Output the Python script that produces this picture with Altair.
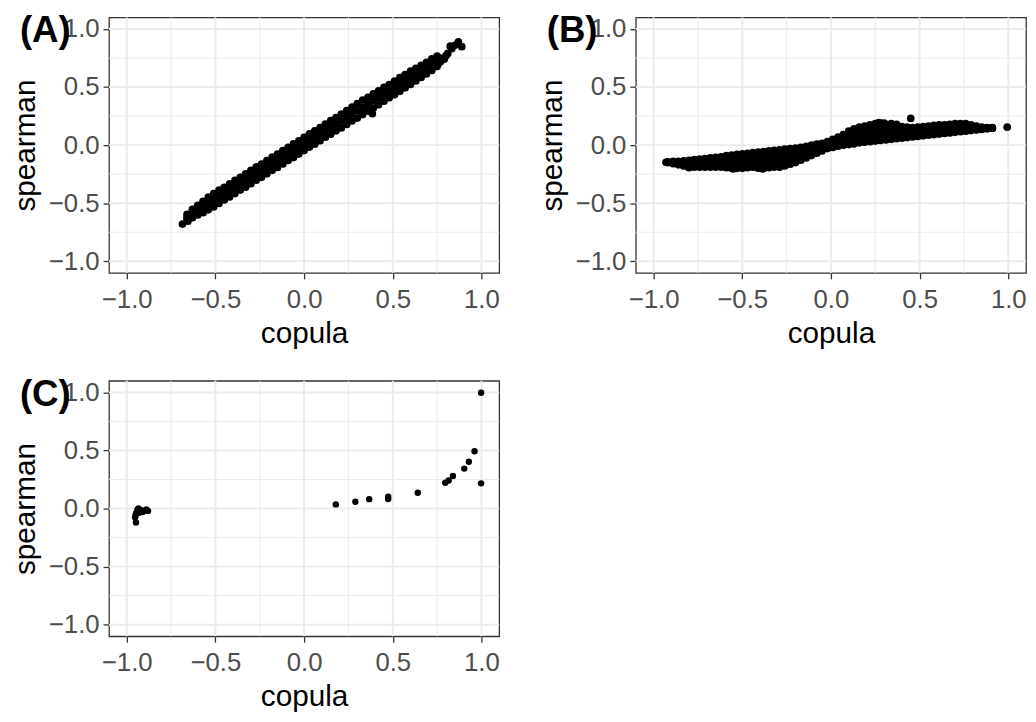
import altair as alt
import pandas as pd

FONT = "Liberation Sans"
MAJOR = [-1.0, -0.5, 0.0, 0.5, 1.0]
MINOR = [-0.75, -0.25, 0.25, 0.75]

# ---- Panel A (dense band) ----
a_x = [-0.66, -0.63, -0.60, -0.57, -0.54, -0.51, -0.48, -0.45,
       -0.42, -0.39, -0.36, -0.33, -0.30, -0.27, -0.24, -0.21,
       -0.18, -0.15, -0.12, -0.09, -0.06, -0.03, 0.00, 0.03,
       0.06, 0.09, 0.12, 0.15, 0.18, 0.21, 0.24, 0.27,
       0.30, 0.33, 0.36, 0.39, 0.42, 0.45, 0.48, 0.51,
       0.54, 0.57, 0.60, 0.63, 0.66, 0.69, 0.72, 0.75]
a_lo = [-0.64, -0.625, -0.602, -0.582, -0.557, -0.532, -0.502, -0.472,
        -0.447, -0.417, -0.387, -0.362, -0.332, -0.302, -0.277, -0.247,
        -0.217, -0.192, -0.162, -0.132, -0.107, -0.077, -0.047, -0.017,
        0.008, 0.038, 0.068, 0.093, 0.123, 0.148, 0.178, 0.208,
        0.233, 0.263, 0.293, 0.318, 0.348, 0.378, 0.408, 0.433,
        0.463, 0.493, 0.523, 0.553, 0.583, 0.613, 0.643, 0.678]
a_mid = [-0.617, -0.589, -0.56, -0.532, -0.503, -0.475, -0.446, -0.418,
         -0.389, -0.361, -0.332, -0.304, -0.275, -0.247, -0.218, -0.19,
         -0.161, -0.133, -0.104, -0.076, -0.047, -0.019, 0.01, 0.039,
         0.067, 0.096, 0.124, 0.153, 0.181, 0.21, 0.238, 0.267,
         0.295, 0.324, 0.352, 0.381, 0.409, 0.438, 0.466, 0.495,
         0.523, 0.552, 0.58, 0.609, 0.637, 0.666, 0.694, 0.723]
a_hi = [-0.595, -0.553, -0.518, -0.483, -0.448, -0.418, -0.388, -0.363,
        -0.333, -0.303, -0.278, -0.248, -0.218, -0.188, -0.163, -0.133,
        -0.103, -0.078, -0.048, -0.018, 0.012, 0.037, 0.067, 0.097,
        0.122, 0.152, 0.182, 0.212, 0.237, 0.267, 0.297, 0.327,
        0.357, 0.387, 0.412, 0.442, 0.467, 0.497, 0.522, 0.552,
        0.582, 0.607, 0.637, 0.662, 0.687, 0.712, 0.742, 0.767]
a_ex_x = [-0.686, -0.655, -0.63, 0.385, 0.759, 0.77, 0.78, 0.79, 0.80, 0.81,
          0.824, 0.833, 0.85, 0.87, 0.889]
a_ex_y = [-0.68, -0.655, -0.623, 0.27, 0.704, 0.72, 0.75, 0.74, 0.77, 0.79,
          0.852, 0.83, 0.86, 0.89, 0.848]

# ---- Panel B (flat S-shaped band) ----
b_x = [-0.92, -0.89, -0.86, -0.83, -0.80, -0.77, -0.74, -0.71, -0.68, -0.65,
       -0.62, -0.59, -0.56, -0.53, -0.50, -0.47, -0.44, -0.41, -0.38, -0.35,
       -0.32, -0.29, -0.26, -0.23, -0.20, -0.17, -0.14, -0.11, -0.08, -0.05,
       -0.02, 0.01, 0.04, 0.07, 0.10, 0.13, 0.16, 0.19, 0.22, 0.25,
       0.28, 0.31, 0.34, 0.37, 0.40, 0.43, 0.46, 0.49, 0.52, 0.55,
       0.58, 0.61, 0.64, 0.67, 0.70, 0.73, 0.76, 0.79, 0.82, 0.85,
       0.88, 0.91]
b_y1 = [-0.150, -0.16, -0.17, -0.18, -0.19, -0.19, -0.19, -0.19, -0.19, -0.19,
        -0.19, -0.195, -0.20, -0.20, -0.20, -0.195, -0.19, -0.20, -0.20, -0.195,
        -0.19, -0.19, -0.18, -0.165, -0.15, -0.13, -0.11, -0.09, -0.07, -0.05,
        -0.03, -0.02, -0.01, 0.0, 0.005, 0.01, 0.02, 0.025, 0.03, 0.035,
        0.04, 0.045, 0.05, 0.055, 0.06, 0.065, 0.07, 0.075, 0.08, 0.085,
        0.09, 0.095, 0.10, 0.105, 0.11, 0.115, 0.12, 0.125, 0.13, 0.135,
        0.14, 0.145]
b_y2 = [-0.148, -0.153, -0.16, -0.165, -0.17, -0.168, -0.167, -0.165, -0.163, -0.162,
        -0.16, -0.16, -0.162, -0.16, -0.158, -0.153, -0.148, -0.153, -0.152, -0.147,
        -0.142, -0.14, -0.132, -0.12, -0.108, -0.093, -0.077, -0.06, -0.043, -0.028,
        -0.01, 0.003, 0.017, 0.03, 0.043, 0.053, 0.065, 0.072, 0.078, 0.085,
        0.09, 0.09, 0.092, 0.093, 0.093, 0.095, 0.097, 0.102, 0.107, 0.112,
        0.117, 0.122, 0.125, 0.13, 0.135, 0.138, 0.142, 0.142, 0.142, 0.142,
        0.144, 0.147]
b_y3 = [-0.147, -0.147, -0.15, -0.15, -0.15, -0.147, -0.143, -0.14, -0.137, -0.133,
        -0.13, -0.125, -0.123, -0.12, -0.117, -0.112, -0.107, -0.107, -0.103, -0.098,
        -0.093, -0.09, -0.083, -0.075, -0.067, -0.057, -0.043, -0.03, -0.017, -0.007,
        0.01, 0.027, 0.043, 0.06, 0.082, 0.097, 0.11, 0.118, 0.127, 0.135,
        0.14, 0.135, 0.133, 0.132, 0.127, 0.125, 0.123, 0.128, 0.133, 0.138,
        0.143, 0.148, 0.15, 0.155, 0.16, 0.162, 0.163, 0.158, 0.153, 0.148,
        0.148, 0.148]
b_y4 = [-0.145, -0.14, -0.14, -0.135, -0.13, -0.125, -0.12, -0.115, -0.11, -0.105,
        -0.10, -0.09, -0.085, -0.08, -0.075, -0.07, -0.065, -0.06, -0.055, -0.05,
        -0.045, -0.04, -0.035, -0.03, -0.025, -0.02, -0.01, 0.0, 0.01, 0.015,
        0.03, 0.05, 0.07, 0.09, 0.12, 0.14, 0.155, 0.165, 0.175, 0.185,
        0.19, 0.18, 0.175, 0.17, 0.16, 0.155, 0.15, 0.155, 0.16, 0.165,
        0.17, 0.175, 0.175, 0.18, 0.185, 0.185, 0.185, 0.175, 0.165, 0.155,
        0.152, 0.15]
b_ex_x = [-0.93, 0.45, 0.994, 0.27, 0.30, 0.34, 0.37, -0.385, -0.55, -0.80]
b_ex_y = [-0.148, 0.23, 0.155, 0.195, 0.19, 0.185, 0.18, -0.205, -0.205, -0.195]

# ---- Panel C (sparse points) ----
c_x = [0.179, 0.289, 0.367, 0.474, 0.474, 0.641, 0.796, 0.815, 0.839, 0.903,
       0.929, 0.961, 0.998, 0.998, -0.889, -0.917, -0.948, -0.953, -0.948, -0.908,
       -0.93, -0.88, -0.934, -0.94, -0.95]
c_y = [0.036, 0.058, 0.081, 0.103, 0.083, 0.136, 0.222, 0.242, 0.281, 0.344,
       0.403, 0.494, 0.217, 0.997, -0.008, -0.014, -0.042, -0.075, -0.12, -0.028,
       -0.036, -0.02, 0.0, -0.01, -0.06]


def frame(xs, *ys):
    parts = [pd.DataFrame({"x": xs, "y": y}) for y in ys]
    return pd.concat(parts, ignore_index=True)


df_a = pd.concat([frame(a_x, a_lo, a_mid, a_hi),
                  pd.DataFrame({"x": a_ex_x, "y": a_ex_y})], ignore_index=True)
df_b = pd.concat([frame(b_x, b_y1, b_y2, b_y3, b_y4),
                  pd.DataFrame({"x": b_ex_x, "y": b_ex_y})], ignore_index=True)
df_c = pd.DataFrame({"x": c_x, "y": c_y})

W, H = 394, 258
LABEL_EXPR = "replace(format(datum.value, '.1f'), '-', '\u2212')"


def panel(df, tag, dot):
    xs = alt.Scale(domain=[-1.1, 1.1], nice=False, zero=False)
    ys = alt.Scale(domain=[-1.1, 1.1], nice=False, zero=False)
    common = dict(values=MAJOR, labelExpr=LABEL_EXPR, grid=False, domain=False,
                  ticks=True, tickSize=6, tickWidth=1.3, tickColor="#333333",
                  labelColor="#4D4D4D", labelFontSize=26, labelFont=FONT,
                  titleFont=FONT, titleFontSize=30, titleFontWeight="normal",
                  titleColor="black", labelFlush=False)
    xaxis = alt.Axis(title="copula", labelPadding=8, titlePadding=6, **common)
    yaxis = alt.Axis(title="spearman", labelPadding=4, titlePadding=8, **common)

    vmaj = alt.Chart(pd.DataFrame({"x": MAJOR})).mark_rule(
        color="#EBEBEB", strokeWidth=2).encode(x=alt.X("x:Q", scale=xs, axis=xaxis))
    vmin = alt.Chart(pd.DataFrame({"x": MINOR})).mark_rule(
        color="#EBEBEB", strokeWidth=1).encode(x=alt.X("x:Q", scale=xs, axis=xaxis))
    hmaj = alt.Chart(pd.DataFrame({"y": MAJOR})).mark_rule(
        color="#EBEBEB", strokeWidth=2).encode(y=alt.Y("y:Q", scale=ys, axis=yaxis))
    hmin = alt.Chart(pd.DataFrame({"y": MINOR})).mark_rule(
        color="#EBEBEB", strokeWidth=1).encode(y=alt.Y("y:Q", scale=ys, axis=yaxis))
    pts = alt.Chart(df).mark_circle(size=dot, color="black", opacity=1).encode(
        x=alt.X("x:Q", scale=xs, axis=xaxis),
        y=alt.Y("y:Q", scale=ys, axis=yaxis))
    lab = alt.Chart(pd.DataFrame({"t": [tag]})).mark_text(
        align="left", baseline="alphabetic", fontSize=37, fontWeight="bold",
        font=FONT, color="black").encode(
        x=alt.value(-90), y=alt.value(25), text="t:N")
    return alt.layer(vmin, hmin, vmaj, hmaj, pts, lab).properties(width=W, height=H)


top = alt.hconcat(panel(df_a, "(A)", 60), panel(df_b, "(B)", 60), spacing=36)
chart = alt.vconcat(top, panel(df_c, "(C)", 42), spacing=26).properties(
    padding={"left": 2, "top": 0, "right": 0, "bottom": 0},
    background="white",
).configure_view(stroke="#333333", strokeWidth=1.3)

chart.save("out.html", embed_options={"renderer": "svg", "actions": False})
